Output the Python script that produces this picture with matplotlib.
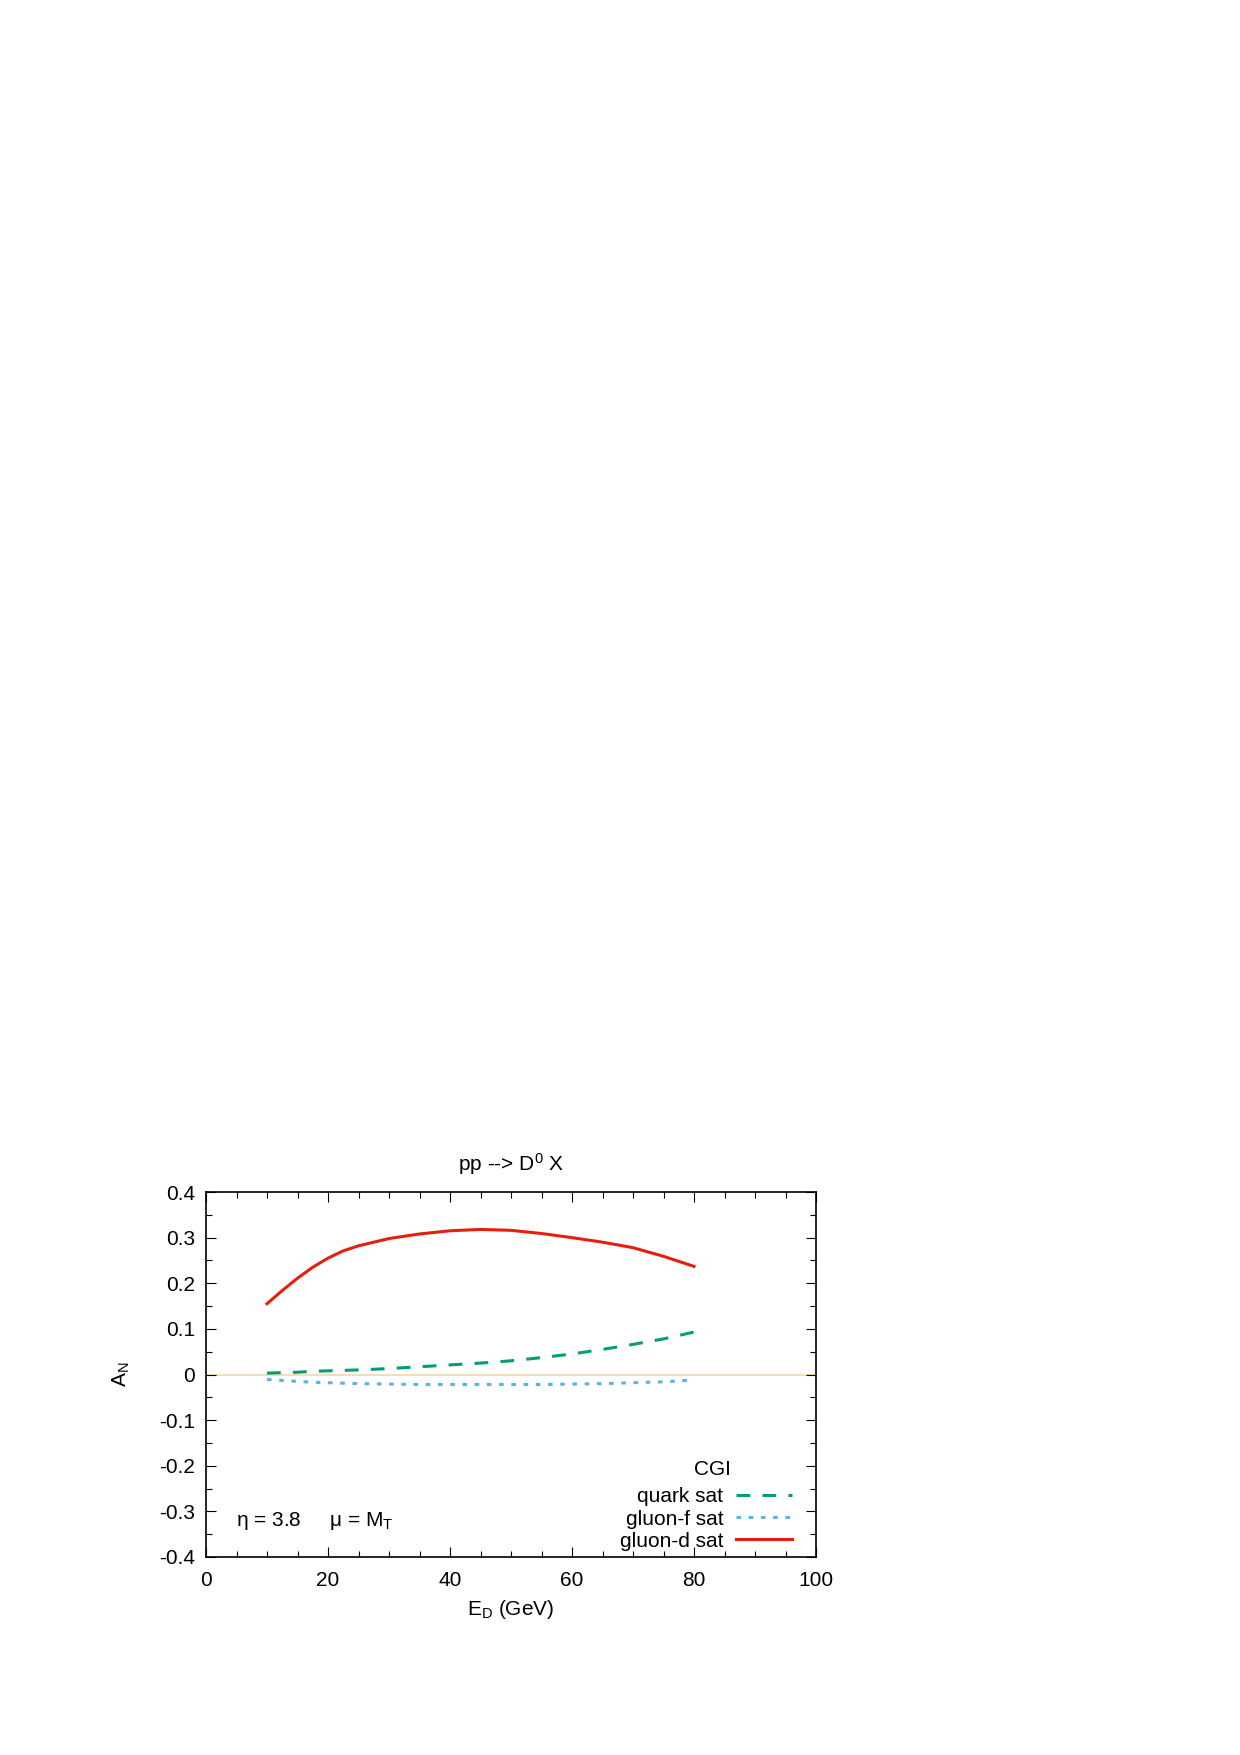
import matplotlib
matplotlib.use("Agg")
import matplotlib.pyplot as plt
from matplotlib.ticker import MultipleLocator, FuncFormatter

plt.rcParams['font.family'] = ['Liberation Sans', 'DejaVu Sans']
plt.rcParams['mathtext.fontset'] = 'custom'
plt.rcParams['mathtext.rm'] = 'Liberation Sans'
plt.rcParams['mathtext.it'] = 'Liberation Sans'

# values
E_D = [10, 12.5, 15, 17.5, 20, 22.5, 25, 30, 35, 40, 45, 50, 55, 60, 65, 70, 75, 80]
quark_sat = [0.003, 0.004, 0.005, 0.007, 0.008, 0.009, 0.010, 0.013, 0.017, 0.021, 0.025, 0.030, 0.037, 0.045, 0.055, 0.066, 0.078, 0.093]
gluon_f_sat = [-0.011, -0.013, -0.015, -0.017, -0.018, -0.019, -0.020, -0.021, -0.022, -0.022, -0.022, -0.022, -0.022, -0.021, -0.020, -0.018, -0.016, -0.012]
gluon_d_sat = [0.155, 0.184, 0.211, 0.235, 0.255, 0.271, 0.282, 0.298, 0.308, 0.315, 0.318, 0.316, 0.309, 0.300, 0.290, 0.278, 0.259, 0.237]

fig = plt.figure(figsize=(12.4, 17.55), dpi=100)
ax = fig.add_axes([206/1240, 1 - 1557/1755, 610/1240, 365/1755])

fs = 15
ax.axhline(0, color='#f3dcaa', lw=1.3, zorder=1)
l1, = ax.plot(E_D, quark_sat, color='#009e73', lw=2.2, dashes=(4.5, 4), label='quark sat')
l2, = ax.plot(E_D, gluon_f_sat, color='#56b4e9', lw=2.2, dashes=(1.5, 2.5), label='gluon-f sat')
l3, = ax.plot(E_D, gluon_d_sat, color='#e51e10', lw=2.2, label='gluon-d sat')

ax.set_xlim(0, 100)
ax.set_ylim(-0.4, 0.4)
ax.xaxis.set_major_locator(MultipleLocator(20))
ax.xaxis.set_minor_locator(MultipleLocator(5))
ax.yaxis.set_major_locator(MultipleLocator(0.1))
ax.yaxis.set_minor_locator(MultipleLocator(0.05))
ax.yaxis.set_major_formatter(FuncFormatter(lambda v, p: '%g' % (round(v, 2) + 0.0)))
ax.tick_params(which='both', direction='in', top=True, right=True, labelsize=fs)
ax.tick_params(axis='x', pad=10)
ax.tick_params(axis='y', pad=8)
ax.tick_params(which='major', length=7, width=0.8)
ax.tick_params(which='minor', length=4, width=0.8)
for s in ax.spines.values():
    s.set_linewidth(1.2)

ax.set_xlabel(r'E$_\mathrm{D}$ (GeV)', fontsize=fs, labelpad=6)
ax.set_ylabel(r'A$_\mathrm{N}$', fontsize=fs, labelpad=19)
ax.set_title(r'pp --> D$^0$ X', fontsize=fs, pad=15)

ax.text(0.05, 0.085, r'$\eta$ = 3.8     $\mu$ = M$_\mathrm{T}$', transform=ax.transAxes, fontsize=fs)
ax.text(0.83, 0.225, 'CGI', transform=ax.transAxes, fontsize=fs, ha='center')

leg = ax.legend(handles=[l1, l2, l3], loc='lower right', frameon=False, fontsize=fs,
                markerfirst=False, handlelength=2.7, handletextpad=0.6,
                labelspacing=0.15, borderaxespad=0.2, bbox_to_anchor=(0.981, -0.017))
for t in leg.get_texts():
    t.set_ha('right')

fig.savefig('out.png', dpi=100)
